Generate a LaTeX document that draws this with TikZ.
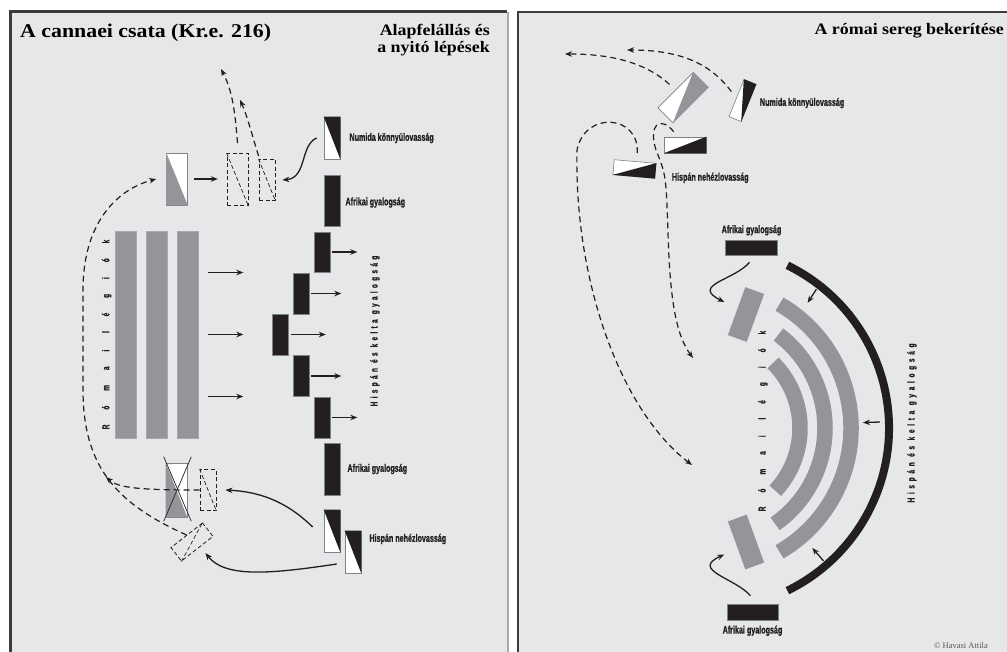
\documentclass[tikz,border=0pt]{standalone}
\usepackage{fontspec}
\usetikzlibrary{positioning,calc,arrows.meta}
\newfontfamily\titlefont{Liberation Serif}[FakeStretch=1.12]
\newfontfamily\creditfont{Liberation Serif}
\newfontfamily\lblfont{Liberation Sans}[FakeStretch=0.65,FakeBold=0.8]
\definecolor{panelgray}{HTML}{E6E7E9}
\definecolor{unitgray}{HTML}{939598}
\definecolor{legedge}{HTML}{A7A9AC}
\definecolor{inkblack}{HTML}{231F20}
\definecolor{unitedge}{HTML}{808285}
\definecolor{framegray}{HTML}{3C3C3C}
\definecolor{creditgray}{HTML}{555555}

\begin{document}
\begin{tikzpicture}[x=1pt, y=-1pt,
    unit/.style={rectangle, inner sep=0pt, draw=unitedge, line width=0.6pt},
    legion/.style={unit, fill=unitgray, draw=legedge, minimum width=21pt, minimum height=207pt},
    infantry/.style={unit, fill=inkblack, minimum width=16pt},
    horse/.style={unit, fill=white, minimum width=16pt, minimum height=42pt},
    ghost/.style={rectangle, inner sep=0pt, draw=inkblack, line width=0.8pt, dash pattern=on 4pt off 2.5pt},
    ghostline/.style={inkblack, line width=0.7pt, dash pattern=on 4pt off 2.5pt},
    xline/.style={inkblack, line width=0.7pt},
    arr/.style={-{Stealth[length=7pt,width=5.5pt]}, line width=1.3pt, inkblack},
    dasharr/.style={arr, line width=1.2pt, dash pattern=on 6pt off 4pt},
    band/.style={unitgray, line width=15.5pt},
    wall/.style={inkblack, line width=8pt},
    lbl/.style={font=\lblfont\bfseries\fontsize{11}{12}\selectfont, inner sep=0pt, text=inkblack},
    vlbl/.style={font=\lblfont\bfseries\fontsize{10}{12}\selectfont, inner sep=0pt, text=inkblack, rotate=90}]

   % frames
   \useasboundingbox (0,0) rectangle (1007,652);
   \fill[white] (0,0) rectangle (1007,652);
   \fill[panelgray] (10,12) rectangle (507,652);
   \fill[panelgray] (518,12) rectangle (1007,652);
   \draw[framegray, line width=3pt] (10.5,652) -- (10.5,12) -- (507,12);
   \draw[legedge, line width=2pt] (507.5,12) -- (507.5,652);
   \draw[framegray, line width=2pt] (518,652) -- (518,12) -- (1007,12);

   % titles
   \node[anchor=base west, inner sep=0pt, font=\titlefont\bfseries\fontsize{19.5}{22}\selectfont] (title) at (20,37.5) {A cannaei csata (Kr.e. 216)};
   \node[anchor=north east, align=right, inner sep=0pt, font=\titlefont\bfseries\fontsize{16}{17}\selectfont] (subtitle) at (490,24) {Alapfelállás és\\a nyitó lépések};
   \node[anchor=base east, inner sep=0pt, font=\titlefont\bfseries\fontsize{16}{20}\selectfont] (title2) at (1004,35) {A római sereg bekerítése};
   \node[anchor=base east, inner sep=0pt, text=creditgray, font=\creditfont\fontsize{8.5}{10}\selectfont] (credit) at (988,648) {© Havasi Attila};

   % left: Roman legions
   \node[legion] (leg1) at (125.5,334.5) {};
   \node[legion] (leg2) at (156.5,334.5) {};
   \node[legion] (leg3) at (187.5,334.5) {};
   \node[vlbl] (legtext) at ([xshift=-8pt]leg1.west) {\addfontfeature{LetterSpace=149}Római légiók};
   \draw[arr] ([xshift=10pt,yshift=62pt]leg3.east) -- ++(35,0);
   \draw[arr] ([xshift=10pt]leg3.east) -- ++(35,0);
   \draw[arr] ([xshift=10pt,yshift=-62pt]leg3.east) -- ++(35,0);

   % left: infantry line
   \node[infantry, minimum height=51pt] (afr1) at (332,200.5) {};
   \node[infantry, minimum height=40pt] (inf1) at (322,252) {};
   \node[infantry, minimum height=41pt] (inf2) at (301,293.5) {};
   \node[infantry, minimum height=41pt] (inf3) at (280.5,334.5) {};
   \node[infantry, minimum height=41pt] (inf4) at (301,376) {};
   \node[infantry, minimum height=41pt] (inf5) at (322,417.5) {};
   \node[infantry, minimum height=52pt] (afr2) at (332,469) {};
   \draw[arr] ([xshift=2pt]inf1.east) -- ++(25,0);
   \draw[arr] ([xshift=2pt]inf2.east) -- ++(30,0);
   \draw[arr] ([xshift=2pt]inf3.east) -- ++(35,0);
   \draw[arr] ([xshift=2pt]inf4.east) -- ++(30,0);
   \draw[arr] ([xshift=2pt]inf5.east) -- ++(25,0);
   \node[vlbl] (hispinf) at (375,331) {\addfontfeature{LetterSpace=33}Hispán és kelta gyalogság};
   \node[lbl, right=5pt of afr1, yshift=-2pt] (afr1lbl) {Afrikai gyalogság};
   \node[lbl, right=7pt of afr2] (afr2lbl) {Afrikai gyalogság};

   % left: cavalry
   \node[horse] (num1) at (332,138) {};
   \fill[inkblack] (num1.north west) -- (num1.north east) -- (num1.south east) -- cycle;
   \node[lbl, right=9pt of num1] (num1lbl) {Numida könnyülovasság};
   \node[horse] (hc1) at (332,531) {};
   \fill[inkblack] (hc1.north west) -- (hc1.north east) -- (hc1.south east) -- cycle;
   \node[horse] (hc2) at (353,552) {};
   \fill[inkblack] (hc2.north west) -- (hc2.north east) -- (hc2.south east) -- cycle;
   \node[lbl, right=8pt of hc2, yshift=13pt] (hclbl) {Hispán nehézlovasság};

   \node[horse, minimum width=21pt, minimum height=52pt] (rc1) at (177,179) {};
   \fill[unitgray] (rc1.north west) -- (rc1.south west) -- (rc1.south east) -- cycle;
   \node[ghost, minimum width=21pt, minimum height=52pt] (dr1) at (237.5,179.5) {};
   \draw[ghostline] (dr1.north west) -- (dr1.south east);
   \node[ghost, minimum width=16pt, minimum height=41pt] (dr2) at (267,180) {};
   \draw[ghostline] (dr2.north west) -- (dr2.south east);
   \draw[arr] ([xshift=6pt]rc1.east) -- ++(24,0);
   \draw[arr] ([xshift=-7pt]num1.west) .. controls (300,145) and (307,178) .. ([xshift=7pt]dr2.east);
   \coordinate (out1) at (221,69);
   \coordinate (out2) at (240,100);
   \draw[dasharr] ([yshift=10pt]dr1.north) .. controls (235,110) and (232,90) .. (out1);
   \draw[dasharr] ([yshift=3pt]dr2.north west) .. controls (252,135) and (247,115) .. (out2);

   \node[horse, minimum width=21pt, minimum height=54pt] (rc2) at (176.5,490) {};
   \fill[unitgray] (rc2.north west) -- (rc2.south west) -- (rc2.south east) -- cycle;
   \draw[xline] ($(rc2.north west)+(-2,-6)$) -- ($(rc2.south east)+(4,4)$);
   \draw[xline] ($(rc2.north east)+(4,-6)$) -- ($(rc2.south west)+(-2,4)$);
   \node[ghost, minimum width=16pt, minimum height=41pt] (dr3) at (208,490) {};
   \draw[ghostline] (dr3.north west) -- (dr3.south east);
   \node[ghost, minimum width=40pt, minimum height=17pt, rotate=38] (drh) at (192,542) {};
   \draw[ghostline] (drh.south west) -- (drh.north east);

   \draw[dasharr] (drh.north) .. controls (120,505) and (83,470) .. (83,390) -- (83,290)
      .. controls (83,225) and (115,190) .. ([xshift=-10pt]rc1.west);
   \coordinate (merge) at (106,477);
   \draw[dasharr] (dr3.west) .. controls (140,490) and (118,488) .. (merge);
   \draw[arr] ([xshift=-11pt,yshift=4pt]hc1.west) .. controls (290,505) and (265,492) .. ([xshift=9pt]dr3.east);
   \draw[arr] ([xshift=-8pt,yshift=-12pt]hc2.west) .. controls (270,574) and (225,578) .. ([xshift=8pt,yshift=-4pt]drh.south);

   % right: cavalry
   \node[horse, minimum width=21pt, minimum height=50pt, rotate=-45] (rc3) at (683,97.5) {};
   \fill[unitgray] (rc3.north west) -- (rc3.north east) -- (rc3.south east) -- cycle;
   \node[horse, minimum width=13pt, minimum height=40pt, rotate=-22] (num2) at (742.5,100.5) {};
   \fill[inkblack] (num2.north west) -- (num2.north east) -- (num2.south east) -- cycle;
   \node[lbl, right=11pt of num2] (num2lbl) {Numida könnyülovasság};
   \node[horse, minimum width=42pt, minimum height=16pt] (hc3) at (685,145) {};
   \fill[inkblack] (hc3.north east) -- (hc3.south east) -- (hc3.south west) -- cycle;
   \node[horse, minimum width=42pt, minimum height=15pt, rotate=-5] (hc4) at (634.5,169) {};
   \fill[inkblack] (hc4.north east) -- (hc4.south east) -- (hc4.south west) -- cycle;
   \node[lbl, right=16pt of hc4, yshift=-7pt] (hc4lbl) {Hispán nehézlovasság};

   \coordinate (exit1) at (565,54);
   \coordinate (exit2) at (627,50);
   \coordinate (sweep1) at (693,358);
   \coordinate (sweep2) at (692,465);
   \draw[dasharr, shorten <=8pt] (rc3.west) .. controls (645,62) and (610,54) .. (exit1);
   \draw[dasharr, shorten <=8pt] (num2.west) .. controls (715,70) and (690,50) .. (exit2);
   \draw[dasharr] ([xshift=10pt,yshift=5pt]hc3.north west) .. controls (660,115) and (648,125) .. (656,150)
      .. controls (666,175) .. (668,233) .. controls (670,300) and (676,335) .. (sweep1);
   \draw[dasharr] ([xshift=2pt,yshift=8pt]hc4.north) .. controls (640,115) and (585,110) .. (577,150)
      .. controls (574,280) and (620,410) .. (sweep2);

   % right: encirclement
   \node[infantry, minimum width=52pt, minimum height=15pt] (afr3) at (751.5,247.5) {};
   \node[lbl, above=4pt of afr3] (afr3lbl) {Afrikai gyalogság};
   \node[infantry, minimum width=51pt, minimum height=16pt] (afr4) at (752.5,612) {};
   \node[lbl, below=5pt of afr4] (afr4lbl) {Afrikai gyalogság};
   \node[unit, fill=unitgray, draw=none, minimum width=20pt, minimum height=51pt, rotate=-20] (wing1) at (746,314.5) {};
   \node[unit, fill=unitgray, draw=none, minimum width=20pt, minimum height=51pt, rotate=20] (wing2) at (746,542) {};
   \draw[arr] ([xshift=-2pt,yshift=-7pt]afr3.south) .. controls (735,280) and (690,285) .. ([xshift=-12pt,yshift=9pt]wing1.west);
   \draw[arr] ([xshift=-2pt,yshift=8pt]afr4.north) .. controls (735,578) and (690,570) .. ([xshift=-12pt,yshift=-9pt]wing2.west);

   \coordinate (ctr) at (708,428);
   \draw[band] ($(ctr)+(-45:92)$) arc[start angle=-45, end angle=43, radius=92];
   \draw[band] ($(ctr)+(-53:117)$) arc[start angle=-53, end angle=55, radius=117];
   \draw[band] ($(ctr)+(-60:143)$) arc[start angle=-60, end angle=60, radius=143];
   \draw[wall] ($(ctr)+(-64:181)$) arc[start angle=-64, end angle=64, radius=181];
   \draw[arr] ($(ctr)+(-52:176)$) -- ($(ctr)+(-51.5:160)$);
   \draw[arr] ($(ctr)+(-2:172)$) -- ($(ctr)+(-2:155)$);
   \draw[arr] ($(ctr)+(49:176)$) -- ($(ctr)+(49:159)$);
   \node[vlbl] (legtext2) at (763,421) {\addfontfeature{LetterSpace=140}Római légiók};
   \node[vlbl] (hispinf2) at (912,423) {\addfontfeature{LetterSpace=37}Hispán és kelta gyalogság};
 \end{tikzpicture}
\end{document}
